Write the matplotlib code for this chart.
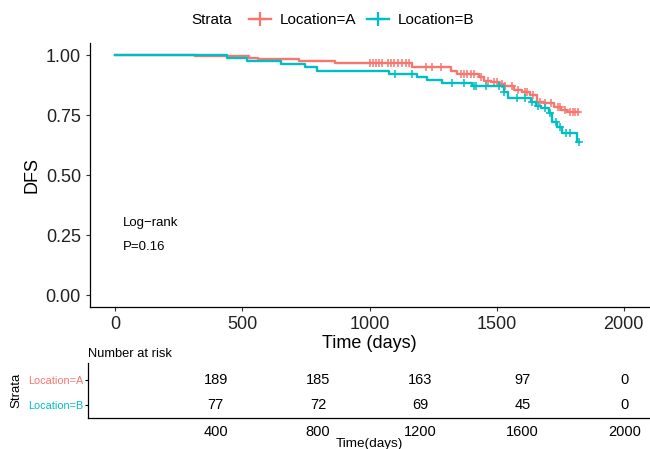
import numpy as np
import matplotlib
matplotlib.use("Agg")
import matplotlib.pyplot as plt
from matplotlib.lines import Line2D

plt.rcParams['font.family'] = ['Liberation Sans', 'DejaVu Sans']

# Kaplan-Meier step data
times_a = [0, 314, 525, 561, 722, 863, 1169, 1322, 1345, 1431, 1451, 1478, 1510, 1529,
           1569, 1600, 1630, 1659, 1686, 1725, 1753, 1776, 1820]
surv_a = [1.0, 0.995, 0.989, 0.983, 0.976, 0.966, 0.950, 0.933, 0.921, 0.907, 0.893, 0.886,
          0.879, 0.872, 0.854, 0.845, 0.833, 0.805, 0.799, 0.785, 0.771, 0.761, 0.761]
cens_a = [1000, 1012, 1027, 1039, 1051, 1071, 1086, 1098, 1114, 1129, 1145, 1157, 1224, 1247,
          1282, 1361, 1373, 1384, 1400, 1412, 1440, 1465, 1490, 1500, 1520, 1535, 1560, 1585,
          1610, 1620, 1645, 1670, 1690, 1715, 1740, 1750, 1770, 1790, 1800, 1810, 1820]

times_b = [0, 439, 517, 651, 745, 792, 1078, 1188, 1227, 1287, 1404, 1529, 1545, 1635, 1655,
           1675, 1706, 1718, 1737, 1757, 1816, 1825]
surv_b = [1.0, 0.986, 0.975, 0.962, 0.951, 0.935, 0.921, 0.910, 0.896, 0.885, 0.871, 0.845,
          0.820, 0.805, 0.790, 0.778, 0.757, 0.722, 0.701, 0.674, 0.639, 0.639]
cens_b = [1101, 1169, 1326, 1373, 1412, 1420, 1459, 1510, 1529, 1580, 1610, 1640, 1665, 1690,
          1710, 1735, 1750, 1775, 1790, 1825]

risk_times = [400, 800, 1200, 1600, 2000]
risk_a = [189, 185, 163, 97, 0]
risk_b = [77, 72, 69, 45, 0]

col_a = '#F8766D'
col_b = '#00BFC4'


def surv_at(times, surv, t):
    i = np.searchsorted(times, t, side='right') - 1
    return np.array(surv)[i]


fig = plt.figure(figsize=(6.5, 4.49), dpi=100)
ax = fig.add_axes([0.1385, 0.316, 0.86, 0.588])

for tt, ss, cc, col in [(times_a, surv_a, cens_a, col_a), (times_b, surv_b, cens_b, col_b)]:
    ax.step(tt, ss, where='post', color=col, lw=1.7)
    ax.plot(cc, surv_at(tt, ss, cc), '+', color=col, ms=6, mew=1.1)

ax.set_xlim(-100, 2100)
ax.set_ylim(-0.05, 1.05)
ax.set_xticks([0, 500, 1000, 1500, 2000])
ax.set_yticks([0, 0.25, 0.5, 0.75, 1.0])
ax.set_yticklabels(['0.00', '0.25', '0.50', '0.75', '1.00'])
for s in ['top', 'right']:
    ax.spines[s].set_visible(False)
for s in ['left', 'bottom']:
    ax.spines[s].set_linewidth(0.9)
ax.tick_params(labelsize=13, length=3, width=0.8, color='#333333', labelcolor='#222222')
ax.set_xlabel('Time (days)', fontsize=13, labelpad=1)
ax.set_ylabel('DFS', fontsize=13, labelpad=4)

ax.text(30, 0.30, 'Log\u2212rank', fontsize=9.5, va='center')
ax.text(30, 0.20, 'P=0.16', fontsize=9.5, va='center')

# legend on top
fig.text(0.295, 0.955, 'Strata', fontsize=11, va='center')
handles = [Line2D([], [], color=col_a, lw=1.7, marker='+', ms=10, mew=1.6),
           Line2D([], [], color=col_b, lw=1.7, marker='+', ms=10, mew=1.6)]
fig.legend(handles, ['Location=A', 'Location=B'], loc='center left',
           bbox_to_anchor=(0.372, 0.955), ncol=2, frameon=False, fontsize=11,
           handlelength=1.4, handletextpad=0.6, columnspacing=0.7, borderpad=0)

# risk table
rx = fig.add_axes([0.1354, 0.069, 0.8646, 0.1225])
for i, t in enumerate(risk_times):
    rx.text(t, 2, str(risk_a[i]), ha='center', va='center', fontsize=10.5)
    rx.text(t, 1, str(risk_b[i]), ha='center', va='center', fontsize=10.5)
rx.set_xlim(-100, 2100)
rx.set_ylim(0.48, 2.68)
rx.set_xticks(risk_times)
rx.set_yticks([2, 1])
rx.set_yticklabels(['Location=A', 'Location=B'], fontsize=7.8)
rx.get_yticklabels()[0].set_color(col_a)
rx.get_yticklabels()[1].set_color(col_b)
rx.tick_params(axis='x', labelsize=10.5, length=0, pad=5)
rx.tick_params(axis='y', length=2.5, width=0.8, pad=1)
for s in ['top', 'right']:
    rx.spines[s].set_visible(False)
for s in ['left', 'bottom']:
    rx.spines[s].set_linewidth(0.9)
rx.set_xlabel('Time(days)', fontsize=9.7, labelpad=-1)
rx.set_ylabel('Strata', fontsize=9.5, labelpad=4)
rx.set_title('Number at risk', fontsize=9.3, loc='left', pad=4)

fig.savefig('out.png', dpi=100)
